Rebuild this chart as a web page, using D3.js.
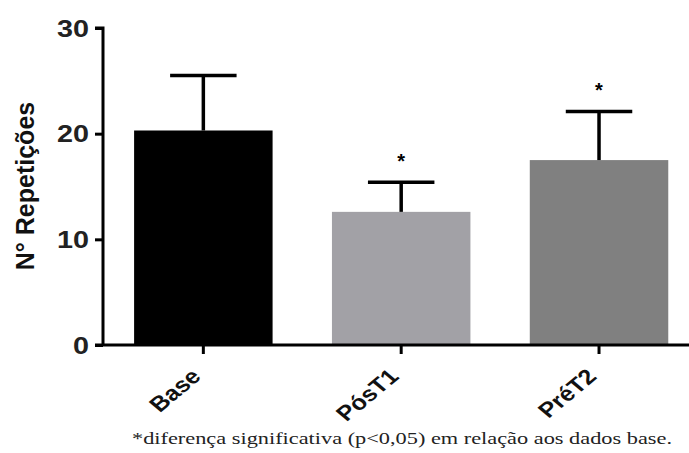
<!DOCTYPE html>
<html>
<head>
<meta charset="utf-8">
<script src="https://cdn.jsdelivr.net/npm/d3@7"></script>
<style>
  html, body { margin: 0; padding: 0; background: #fff; }
  svg { display: block; }
</style>
</head>
<body>
<svg id="chart" width="689" height="453"></svg>
<script>
const categories = ["Base", "PósT1", "PréT2"];
const means = [20.3, 12.6, 17.5];
const sds = [5.2, 2.8, 4.6];
const significant = [false, true, true];
const barColors = ["#000000", "#a2a1a6", "#808080"];
const yTicks = [0, 10, 20, 30];
const yLabel = "N° Repetições";
const footnote = "*diferença significativa (p<0,05) em relação aos dados base.";

const svg = d3.select("#chart");
const x0 = 103, x1 = 689, yBottom = 345, yTop = 28;

const x = d3.scaleBand().domain(categories).range([x0, x1])
  .paddingInner(0.3).paddingOuter(0.131).align(0.6);
const y = d3.scaleLinear().domain([0, 30]).range([yBottom, yTop]);

const data = categories.map((c, i) => ({ c, m: means[i], sd: sds[i], sig: significant[i], col: barColors[i] }));

// bars
svg.append("g").selectAll("rect").data(data).join("rect")
  .attr("x", d => x(d.c)).attr("width", x.bandwidth())
  .attr("y", d => y(d.m)).attr("height", d => y(0) - y(d.m))
  .attr("fill", d => d.col);

// error bars
const capW = x.bandwidth() * 0.48;
const eg = svg.append("g").attr("stroke", "#000").attr("stroke-width", 3.5);
data.forEach(d => {
  const cx = x(d.c) + x.bandwidth() / 2;
  eg.append("line").attr("x1", cx).attr("x2", cx).attr("y1", y(d.m)).attr("y2", y(d.m + d.sd));
  eg.append("line").attr("x1", cx - capW / 2).attr("x2", cx + capW / 2).attr("y1", y(d.m + d.sd)).attr("y2", y(d.m + d.sd));
});

// stars
svg.append("g").selectAll("text").data(data.filter(d => d.sig)).join("text")
  .attr("x", d => x(d.c) + x.bandwidth() / 2)
  .attr("y", d => y(d.m + d.sd) - 27)
  .attr("text-anchor", "middle").attr("dominant-baseline", "central")
  .attr("font-family", "Liberation Sans, Arial, sans-serif").attr("font-weight", "bold")
  .attr("font-size", 20).attr("dy", "0.3em")
  .text("*");

// y axis
const yAxis = d3.axisLeft(y).tickValues(yTicks).tickSize(8).tickPadding(6);
const gy = svg.append("g").attr("transform", `translate(${x0},0)`).call(yAxis);
gy.select(".domain").attr("stroke-width", 3).attr("d", `M-8,${yTop}H0V${yBottom}`);
gy.selectAll(".tick line").attr("stroke-width", 3);
gy.selectAll(".tick text").attr("font-family", "Liberation Sans, Arial, sans-serif")
  .attr("font-weight", "bold").attr("font-size", 23).attr("fill", "#222")
  .attr("x", null).attr("dy", "0.35em")
  .attr("transform", "translate(-14,0) scale(1.25,1)");

// x axis
const xAxis = d3.axisBottom(x).tickSize(9).tickFormat(d => d);
const gx = svg.append("g").attr("transform", `translate(0,${yBottom})`).call(xAxis);
gx.select(".domain").attr("stroke-width", 3).attr("d", `M${x0 - 8},0H${x1}`);
gx.selectAll(".tick line").attr("stroke-width", 3);
gx.selectAll(".tick text")
  .attr("font-family", "Liberation Sans, Arial, sans-serif").attr("font-weight", "bold")
  .attr("font-size", 21).attr("fill", "#111")
  .attr("text-anchor", "end").attr("dy", null).attr("y", null)
  .attr("transform", "translate(-14,22) scale(1.2,1) rotate(-45)")
  .attr("dominant-baseline", "hanging");

// y label
svg.append("text")
  .attr("transform", `translate(25,186) rotate(-90)`)
  .attr("text-anchor", "middle").attr("dominant-baseline", "central")
  .attr("font-family", "Liberation Sans, Arial, sans-serif").attr("font-weight", "bold")
  .attr("font-size", 25).attr("fill", "#111")
  .text(yLabel);

// footnote
svg.append("text")
  .attr("x", 132).attr("y", 444)
  .attr("font-family", "Liberation Serif, serif").attr("font-size", 17).attr("fill", "#222")
  .attr("textLength", 540).attr("lengthAdjust", "spacingAndGlyphs")
  .text(footnote);
</script>
</body>
</html>
